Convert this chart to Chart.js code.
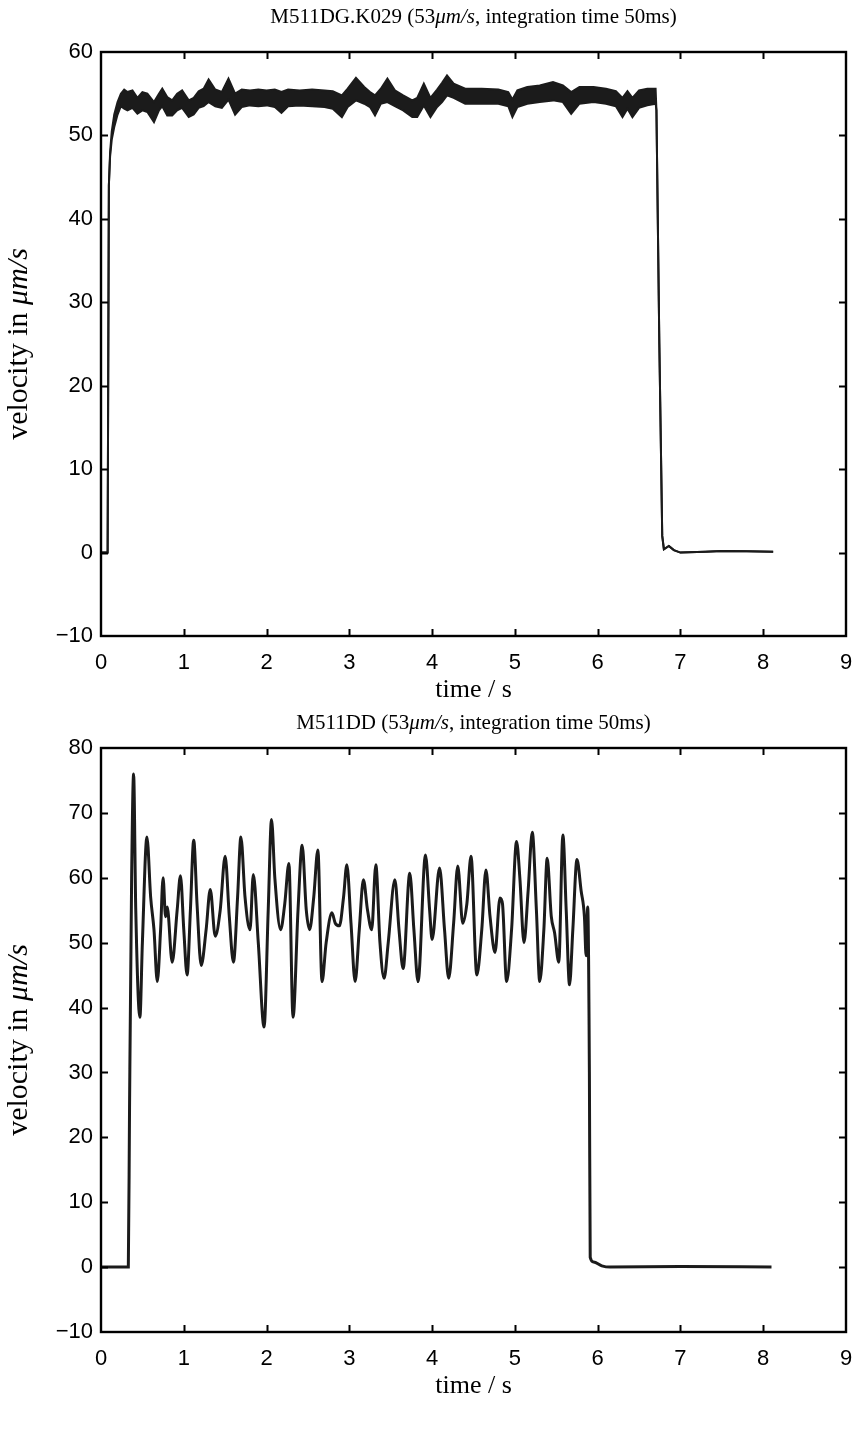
<!DOCTYPE html>
<html>
<head>
<meta charset="utf-8">
<script src="https://cdn.jsdelivr.net/npm/chart.js@4.4.1/dist/chart.umd.min.js"></script>
<style>
  html, body { margin: 0; padding: 0; background: #fff; }
  #page { position: relative; width: 856px; height: 1431px; }
  .panel { position: absolute; left: 0; width: 856px; }
</style>
</head>
<body>
<div id="page">
  <div class="panel" id="p1" style="top:0;height:700px"><canvas id="runK029"></canvas></div>
  <div class="panel" id="p2" style="top:700px;height:731px"><canvas id="runDD"></canvas></div>
</div>
<script>
// M511DG.K029: signal is a dense noisy band, kept as upper / lower envelope
const k029Time  = [0, 0.08, 0.095, 0.11, 0.13, 0.16, 0.2, 0.24, 0.28, 0.32, 0.38, 0.44, 0.5, 0.56, 0.64, 0.7, 0.74, 0.8, 0.86, 0.92, 0.98, 1.06, 1.12, 1.18, 1.24, 1.3, 1.38, 1.46, 1.54, 1.62, 1.7, 1.8, 1.9, 2.0, 2.1, 2.18, 2.26, 2.4, 2.55, 2.7, 2.8, 2.91, 2.98, 3.08, 3.18, 3.25, 3.31, 3.38, 3.46, 3.55, 3.65, 3.76, 3.82, 3.9, 3.98, 4.06, 4.12, 4.18, 4.26, 4.4, 4.6, 4.8, 4.92, 4.97, 5.03, 5.15, 5.3, 5.46, 5.58, 5.68, 5.78, 5.95, 6.1, 6.22, 6.3, 6.36, 6.42, 6.5, 6.6, 6.7, 6.71, 6.745, 6.78, 6.8, 6.86, 6.92, 7.0, 7.3, 7.5, 7.8, 8.12];
const k029Upper = [0, 0, 44, 48, 50.5, 52.5, 54, 55, 55.5, 55.2, 55.4, 54.5, 55.2, 55, 54, 55, 55.6, 54.6, 54.2, 55, 55.4, 54.2, 54.5, 55.3, 55.6, 56.7, 55.5, 55.2, 56.8, 55, 55.5, 55.4, 55.5, 55.4, 55.5, 55.2, 55.5, 55.4, 55.5, 55.4, 55.3, 54.8, 55.6, 56.9, 55.8, 55.2, 54.8, 55.6, 56.8, 55.4, 54.8, 54.2, 54.5, 56.2, 54.5, 55.5, 56.3, 57.2, 56.2, 55.6, 55.6, 55.5, 55.2, 54.3, 55.4, 55.8, 56, 56.4, 56, 55.2, 55.8, 55.8, 55.6, 55.3, 54.5, 55.3, 54.5, 55.4, 55.6, 55.6, 53, 25, 2, 0.4, 0.8, 0.3, 0, 0.1, 0.2, 0.15, 0.1];
const k029Lower = [0, 0, 44, 47.5, 49.5, 51, 52.5, 53.5, 53.2, 53, 53.3, 52.6, 53, 52.8, 51.6, 53, 53.5, 52.4, 52.4, 53, 53.3, 52.2, 52.5, 53.3, 53.5, 54, 53.5, 53.3, 54.3, 52.5, 53.4, 53.6, 53.5, 53.6, 53.4, 52.7, 53.5, 53.6, 53.5, 53.4, 53.2, 52.2, 53.4, 54.2, 53.8, 53.4, 52.4, 53.8, 54, 53.5, 53, 52.2, 52.2, 53.6, 52.2, 53.4, 54, 54.8, 54.5, 53.8, 53.8, 53.8, 53.5, 52.2, 53.4, 53.8, 54, 54.2, 54, 52.6, 53.8, 54, 53.8, 53.5, 52.2, 53.2, 52.2, 53.3, 53.6, 53.8, 53, 25, 2, 0.4, 0.8, 0.3, 0, 0.1, 0.2, 0.15, 0.1];

// M511DD: oscillating velocity
const ddTime     = [0, 0.33, 0.345, 0.37, 0.394, 0.42, 0.47, 0.5, 0.555, 0.6, 0.64, 0.68, 0.72, 0.75, 0.78, 0.8, 0.86, 0.92, 0.96, 1.0, 1.04, 1.08, 1.12, 1.16, 1.21, 1.27, 1.32, 1.38, 1.44, 1.5, 1.55, 1.6, 1.65, 1.69, 1.74, 1.8, 1.84, 1.9, 1.97, 2.02, 2.06, 2.1, 2.17, 2.22, 2.27, 2.32, 2.38, 2.43, 2.48, 2.52, 2.57, 2.62, 2.67, 2.72, 2.79, 2.83, 2.88, 2.93, 2.97, 3.02, 3.07, 3.12, 3.17, 3.22, 3.27, 3.32, 3.37, 3.42, 3.47, 3.55, 3.6, 3.65, 3.73, 3.78, 3.83, 3.92, 3.97, 4.0, 4.09, 4.15, 4.2, 4.26, 4.31, 4.37, 4.42, 4.47, 4.54, 4.6, 4.65, 4.7, 4.76, 4.82, 4.85, 4.9, 4.96, 5.02, 5.06, 5.11, 5.16, 5.21, 5.26, 5.3, 5.35, 5.39, 5.44, 5.48, 5.53, 5.58, 5.62, 5.66, 5.7, 5.75, 5.8, 5.84, 5.86, 5.88, 5.9, 5.91, 5.95, 6.05, 6.15, 7.0, 8.1];
const ddVelocity = [0, 0, 25, 60, 76, 55, 38.5, 50, 66.3, 57, 52, 44, 52, 60, 54, 55.5, 47, 55, 60.3, 52, 45, 55, 65.8, 56, 46.5, 52, 58.2, 51, 55, 63.3, 54, 47, 57, 66.3, 57, 52, 60.5, 50, 37, 55, 69, 60, 52, 56, 62.2, 38.5, 55, 65, 55, 52, 57, 64.3, 44, 50, 54.6, 53, 52.6, 57, 62, 53, 44, 52, 59.7, 55, 52, 62, 50, 44.5, 50, 59.7, 52, 46, 60.7, 52, 44, 63.5, 55, 50.5, 61.5, 52, 44.5, 53, 61.8, 53, 56, 63.3, 45, 52, 61.2, 54, 48.5, 56.9, 56, 44, 52, 65.6, 60, 50, 58, 67, 55, 44, 52, 63, 54, 51.5, 47, 66.6, 55, 43.5, 52, 62.8, 58, 54, 48, 55.5, 30, 1.5, 0.8, 0.2, 0, 0.1, 0];

const timeTicks = [0, 1, 2, 3, 4, 5, 6, 7, 8, 9];

const INK = '#1b1b1b';
const TICK_FONT = "'Liberation Sans Narrow', 'Liberation Sans', Arial, sans-serif";
const SERIF = "'Liberation Serif', 'DejaVu Serif', serif";

const toPoints = (xs, ys) => xs.map((x, i) => ({ x, y: ys[i] }));
const minusLabel = v => (v < 0 ? '\u2212' + Math.abs(v) : String(v));

// draw a line of text made of roman / italic pieces, centred on (x, y)
function drawRich(ctx, parts, x, y, size) {
  const fonts = parts.map(p => (p[1] ? 'italic ' : '') + size + 'px ' + SERIF);
  const widths = parts.map((p, i) => { ctx.font = fonts[i]; return ctx.measureText(p[0]).width; });
  let cx = x - widths.reduce((a, b) => a + b, 0) / 2;
  ctx.textAlign = 'left';
  ctx.textBaseline = 'middle';
  parts.forEach((p, i) => {
    ctx.font = fonts[i];
    ctx.fillText(p[0], cx, y);
    cx += widths[i];
  });
}

// box round the axes, inward ticks on all four sides, titles
const framePlugin = {
  id: 'frame',
  afterDraw(chart, args, opts) {
    const { ctx, chartArea: a, scales } = chart;
    ctx.save();
    ctx.strokeStyle = '#000';
    ctx.lineWidth = 2;
    const tl = 7;
    ctx.beginPath();
    scales.x.ticks.forEach(t => {
      const px = Math.round(scales.x.getPixelForValue(t.value)) + 0.5;
      if (px <= a.left + 1 || px >= a.right - 1) return;
      ctx.moveTo(px, a.bottom); ctx.lineTo(px, a.bottom - tl);
      ctx.moveTo(px, a.top); ctx.lineTo(px, a.top + tl);
    });
    scales.y.ticks.forEach(t => {
      const py = Math.round(scales.y.getPixelForValue(t.value)) + 0.5;
      if (py <= a.top + 1 || py >= a.bottom - 1) return;
      ctx.moveTo(a.left, py); ctx.lineTo(a.left + tl, py);
      ctx.moveTo(a.right, py); ctx.lineTo(a.right - tl, py);
    });
    ctx.stroke();
    ctx.lineWidth = 2.4;
    ctx.strokeRect(a.left, a.top, a.right - a.left, a.bottom - a.top);

    ctx.fillStyle = '#000';
    const cx = (a.left + a.right) / 2;
    drawRich(ctx, opts.title, cx, opts.titleY, 21);
    drawRich(ctx, [['time / s', false]], cx, a.bottom + 54, 26);
    ctx.translate(19, (a.top + a.bottom) / 2);
    ctx.rotate(-Math.PI / 2);
    drawRich(ctx, [['velocity in ', false], ['\u03bcm/s', true]], 0, 0, 30);
    ctx.restore();
  }
};

function makeChart(id, datasets, yMin, yMax, layout) {
  return new Chart(document.getElementById(id), {
    type: 'line',
    data: { datasets },
    options: {
      responsive: true,
      maintainAspectRatio: false,
      animation: false,
      layout: { padding: { top: layout.top, right: 10, bottom: layout.bottom, left: 0 } },
      elements: { point: { radius: 0 }, line: { tension: 0 } },
      scales: {
        x: {
          type: 'linear', min: 0, max: 9,
          afterBuildTicks: s => { s.ticks = timeTicks.map(v => ({ value: v })); },
          afterFit: s => { s.height = 60; s.paddingLeft = 0; s.paddingRight = 0; },
          grid: { display: false, drawTicks: false },
          border: { display: false },
          ticks: { padding: 14, color: '#000', font: { family: TICK_FONT, size: 22 }, maxRotation: 0 }
        },
        y: {
          min: yMin, max: yMax,
          ticks: { stepSize: 10, padding: 8, color: '#000', font: { family: TICK_FONT, size: 22 }, callback: minusLabel },
          afterFit: s => { s.width = 101; s.paddingTop = 0; s.paddingBottom = 0; },
          grid: { display: false, drawTicks: false },
          border: { display: false }
        }
      },
      plugins: {
        legend: { display: false },
        tooltip: { enabled: false },
        frame: { title: layout.title, titleY: layout.titleY }
      }
    },
    plugins: [framePlugin]
  });
}

makeChart('runK029', [
  { data: toPoints(k029Time, k029Upper), borderColor: INK, borderWidth: 2, fill: false },
  { data: toPoints(k029Time, k029Lower), borderColor: INK, borderWidth: 2, fill: '-1', backgroundColor: INK }
], -10, 60, {
  top: 52, bottom: 4, titleY: 17,
  title: [['M511DG.K029 (53', false], ['\u03bcm/s', true], [', integration time 50ms)', false]]
});

makeChart('runDD', [
  { data: toPoints(ddTime, ddVelocity), borderColor: INK, borderWidth: 3, fill: false, cubicInterpolationMode: 'monotone' }
], -10, 80, {
  top: 48, bottom: 39, titleY: 23,
  title: [['M511DD (53', false], ['\u03bcm/s', true], [', integration time 50ms)', false]]
});
</script>
</body>
</html>
